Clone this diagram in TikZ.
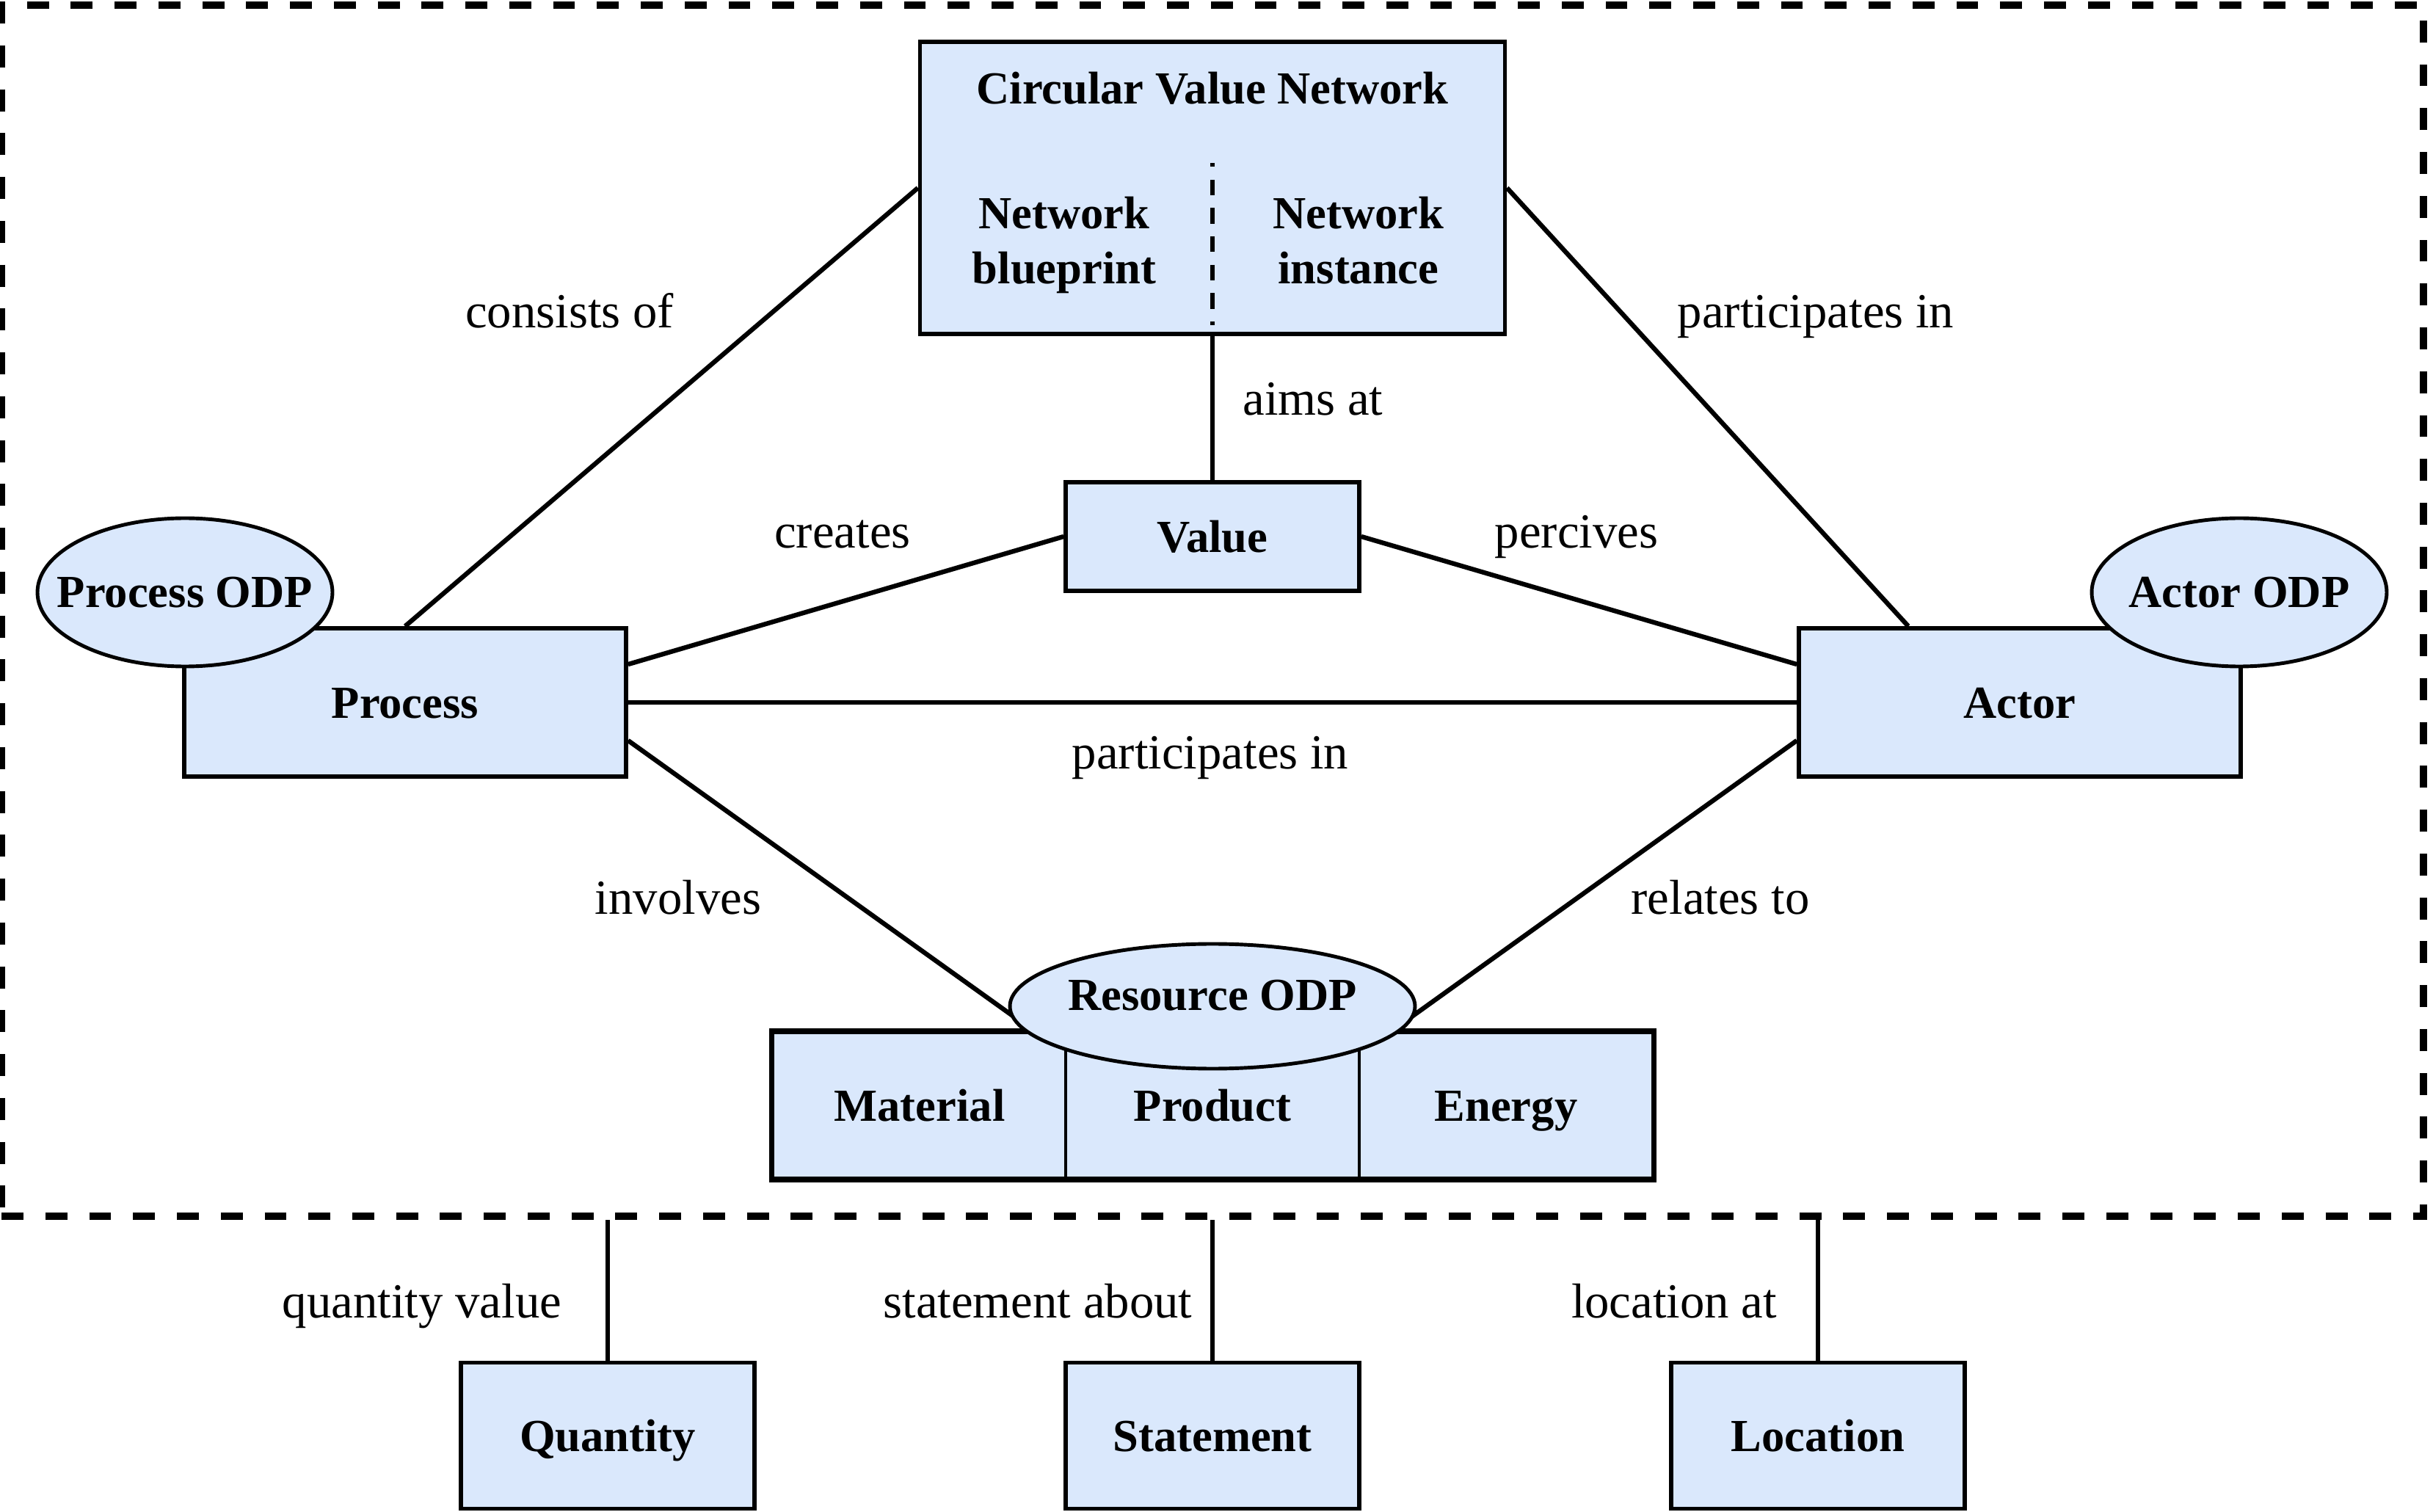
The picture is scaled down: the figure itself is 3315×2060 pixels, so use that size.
\documentclass[tikz,border=0pt]{standalone}
\usepackage{fontspec}
\setmainfont{Liberation Serif}
\usetikzlibrary{shapes.geometric,calc}
\definecolor{boxfill}{HTML}{DAE8FC}
\begin{document}
\begin{tikzpicture}[x=0.1mm,y=-0.1mm,
  box/.style={draw=black,fill=boxfill,line width=1.6pt,inner sep=0pt,
    font=\fontsize{17.8}{21.6}\selectfont\bfseries,text height=12pt,text depth=0pt},
  thinbox/.style={box,line width=1.2pt},
  odp/.style={ellipse,draw=black,fill=boxfill,line width=1.4pt,inner sep=0pt},
  btxt/.style={inner sep=0pt,font=\fontsize{17.8}{21.6}\selectfont\bfseries,align=center},
  lbl/.style={inner sep=0pt,font=\fontsize{19}{22}\selectfont,text height=9pt,text depth=0pt},
  conn/.style={line width=1.8pt},
  bconn/.style={line width=1.7pt},
  frame/.style={draw=black,line width=2.85pt,dash pattern=on 8.5pt off 8.5pt,inner sep=0pt}]
\useasboundingbox (0,0) rectangle (3315,2060);

% dashed frame
\node[frame,minimum width=330mm,minimum height=165mm] (frame) at (1652,832) {};

% free ends of the two lines that meet the Resource ODP ellipse
\coordinate (rl) at (1405,1402);
\coordinate (rr) at (1900,1402);

% boxes (first pass, to get anchors)
\node[box,minimum width=79.7mm,minimum height=39.8mm] (cvn) at (1652,256) {};
\node[box,minimum width=40mm,minimum height=14.8mm] (val) at (1652,731) {};
\node[box,minimum width=60.2mm,minimum height=20.2mm] (proc) at (552,957) {};
\node[box,minimum width=60.2mm,minimum height=20.2mm] (act) at (2752,957) {};

% connectors
\draw[conn] (proc.north) -- (cvn.west);
\draw[conn] ($(act.north west)!0.25!(act.north east)$) -- (cvn.east);
\draw[conn] ($(proc.north east)!0.25!(proc.south east)$) -- (val.west);
\draw[conn] (val.east) -- ($(act.north west)!0.25!(act.south west)$);
\draw[conn] (proc.east) -- (act.west);
\draw[conn] ($(proc.north east)!0.75!(proc.south east)$) -- (rl);
\draw[conn] ($(act.north west)!0.75!(act.south west)$) -- (rr);
\draw[conn] (cvn.south) -- (val.north);

% boxes on top of connectors
\node[box,minimum width=79.7mm,minimum height=39.8mm] at (cvn) {};
\node[box,minimum width=40mm,minimum height=14.8mm] at (val) {Value};
\node[box,minimum width=60.2mm,minimum height=20.2mm] at (proc) {Process};
\node[box,minimum width=60.2mm,minimum height=20.2mm] at (act) {Actor};

% CVN contents
\node[btxt] (cvnt) at (1652,120) {Circular Value Network};
\node[btxt] (nb) at (1450,334) {Network\\blueprint};
\node[btxt] (ni) at (1851,334) {Network\\instance\vphantom{p}};
\coordinate (divtop) at (1652,222);
\draw[line width=1.8pt,dash pattern=on 1.5pt off 5pt on 6pt off 5pt on 6pt off 5pt on 6pt off 5pt on 6pt off 5pt on 6pt off 5pt] (divtop) -- (cvn.south);

% resource boxes
\node[thinbox,minimum width=40mm,minimum height=19.9mm] (mat) at (1253,1506) {Material};
\node[thinbox,minimum width=40mm,minimum height=19.9mm] (prod) at (1652,1506) {Product};
\node[thinbox,minimum width=40mm,minimum height=19.9mm] (ener) at (2052,1506) {Energy};
\draw[line width=1.8pt] (mat.north west) rectangle (ener.south east);

% ODP ellipses
\node[odp,minimum width=40.2mm,minimum height=20.2mm] (podp) at (252,807) {};
\node[btxt] at (podp) {Process ODP};
\node[odp,minimum width=40.2mm,minimum height=20.2mm] (aodp) at (3051,807) {};
\node[btxt] at (aodp) {Actor ODP};
\node[odp,minimum width=55.2mm,minimum height=17mm] (rodp) at (1652,1371) {};
\node[btxt] at (1652,1356) {Resource ODP};

% bottom boxes
\node[box,minimum width=40mm,minimum height=19.9mm] (qty) at (828,1956) {Quantity};
\node[box,minimum width=40mm,minimum height=19.9mm] (stm) at (1652,1956) {Statement};
\node[box,minimum width=40mm,minimum height=19.9mm] (loc) at (2477,1956) {Location};
\draw[bconn] (qty.north) -- (qty.north |- frame.south);
\draw[bconn] (stm.north) -- (stm.north |- frame.south);
\draw[bconn] (loc.north) -- (loc.north |- frame.south);

% labels
\node[lbl] (l1) at (776,431) {consists of};
\node[lbl] (l2) at (2474,431) {participates in};
\node[lbl] (l3) at (1789,550) {aims at};
\node[lbl] (l4) at (1148,731) {creates};
\node[lbl] (l5) at (2148,731) {percives};
\node[lbl] (l6) at (1649,1032) {participates in};
\node[lbl] (l7) at (924,1230) {involves};
\node[lbl] (l8) at (2344,1230) {relates to};
\node[lbl] (l9) at (575,1780) {quantity value};
\node[lbl] (l10) at (1414,1780) {statement about};
\node[lbl] (l11) at (2281,1780) {location at};
\end{tikzpicture}
\end{document}
